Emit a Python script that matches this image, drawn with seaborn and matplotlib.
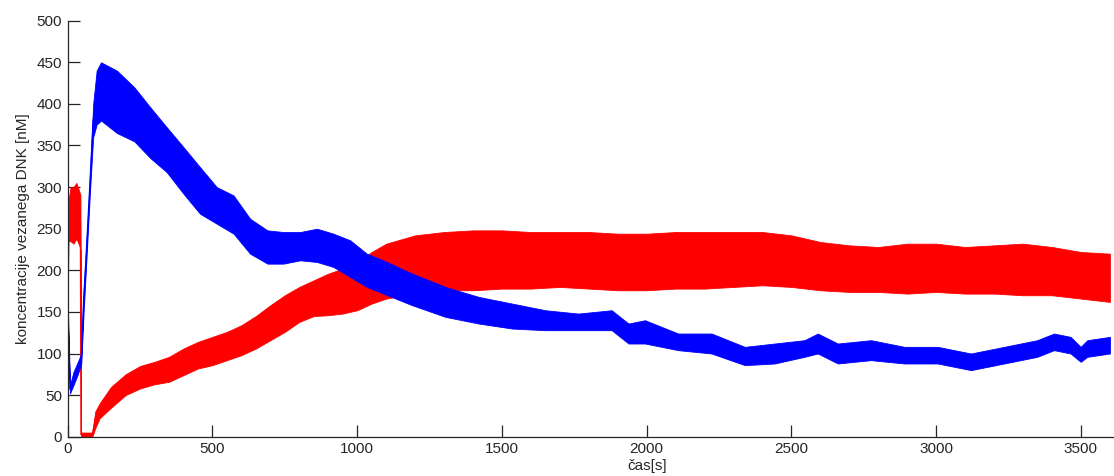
import numpy as np
import pandas as pd
import seaborn as sns
import matplotlib
matplotlib.use("Agg")
import matplotlib.pyplot as plt

# ---- data (time in s, envelope of the noisy signal in nM) ----
red_t = [0, 3, 10, 20, 30, 40, 44, 46, 60, 85, 95, 110, 150, 200, 250, 300, 350, 400, 450,
         500, 550, 600, 650, 700, 750, 800, 850, 900, 950, 1000, 1050, 1100, 1200, 1300,
         1400, 1500, 1600, 1700, 1800, 1900, 2000, 2100, 2200, 2300, 2400, 2500, 2600,
         2700, 2800, 2900, 3000, 3100, 3200, 3300, 3400, 3500, 3600]
red_lo = [165, 235, 235, 232, 238, 230, 225, 0, 0, 0, 10, 22, 35, 50, 58, 63, 66, 74, 82,
          86, 92, 98, 106, 116, 126, 138, 145, 146, 148, 152, 160, 166, 172, 176,
          176, 178, 178, 180, 178, 176, 176, 178, 178, 180, 182, 180, 176,
          174, 174, 172, 174, 172, 172, 170, 170, 166, 162]
red_hi = [185, 285, 300, 300, 305, 295, 290, 5, 5, 5, 30, 40, 60, 75, 85, 90, 96, 106, 114,
          120, 126, 134, 145, 158, 170, 180, 188, 196, 202, 210, 222, 232, 242, 246,
          248, 248, 246, 246, 246, 244, 244, 246, 246, 246, 246, 242, 234,
          230, 228, 232, 232, 228, 230, 232, 228, 222, 220]

blue_t = [0, 1, 8, 20, 35, 47, 55, 65, 77, 88, 100, 115, 170, 230, 285, 342, 400, 457,
          515, 573, 630, 690, 745, 803, 861, 918, 976, 1033, 1090, 1190, 1305, 1420,
          1535, 1650, 1764, 1879, 1937, 1994, 2109, 2224, 2339, 2442, 2545, 2591, 2660,
          2775, 2890, 3005, 3120, 3235, 3349, 3407, 3464, 3499, 3522, 3600]
blue_lo = [0, 135, 52, 62, 75, 88, 150, 215, 295, 360, 375, 380, 365, 355, 335, 318, 292,
           268, 256, 244, 220, 208, 208, 212, 210, 204, 192, 180, 172, 158, 144, 136,
           130, 128, 128, 128, 112, 112, 104, 100, 86, 88, 96, 100, 88,
           92, 88, 88, 80, 88, 96, 104, 100, 90, 96, 100]
blue_hi = [0, 150, 62, 78, 90, 100, 175, 235, 315, 400, 440, 450, 440, 420, 396, 372, 348,
           324, 300, 290, 262, 248, 246, 246, 250, 244, 236, 220, 212, 196, 180, 168,
           160, 152, 148, 152, 136, 140, 124, 124, 108, 112, 116, 124, 112,
           116, 108, 108, 100, 108, 116, 124, 120, 108, 116, 120]

x_ticks = [0, 500, 1000, 1500, 2000, 2500, 3000, 3500]
y_ticks = [0, 50, 100, 150, 200, 250, 300, 350, 400, 450, 500]

sns.set_style("white")
plt.rcParams["font.family"] = ["Liberation Sans", "DejaVu Sans"]

fig = plt.figure(figsize=(11.14, 4.76), dpi=100)
W, H = 1114.0, 476.0
x0, x1 = 67.7, 1225.7   # axes spans 0..4000 s; image cropped at the right
y0, y1 = 436.7, 20.7
ax = fig.add_axes([x0 / W, 1 - y0 / H, (x1 - x0) / W, (y0 - y1) / H])


def long(t, lo, hi):
    return pd.DataFrame({"t": list(t) + list(t), "c": list(lo) + list(hi)})


for t, lo, hi, col, z in [(red_t, red_lo, red_hi, "#ff0000", 1),
                          (blue_t, blue_lo, blue_hi, "#0000ff", 3)]:
    sns.lineplot(data=long(t, lo, hi), x="t", y="c", estimator="mean",
                 errorbar=("pi", 100), color=col, linewidth=1.0, ax=ax, zorder=z + 1,
                 err_kws={"alpha": 1.0, "linewidth": 0.6, "edgecolor": col, "zorder": z})

ax.set_xlim(0, 4000)
ax.set_ylim(0, 500)
ax.set_xticks(x_ticks)
ax.set_yticks(y_ticks)
ax.tick_params(direction="in", length=8.5, width=0.9, colors="#262626",
               labelsize=11, pad=4, bottom=True, left=True, top=False, right=False)
for s in ["top", "right"]:
    ax.spines[s].set_visible(False)
for s in ["left", "bottom"]:
    ax.spines[s].set_color("#262626")
    ax.spines[s].set_linewidth(0.9)
    ax.spines[s].set_zorder(6)
ax.set_xlabel("čas[s]", fontsize=11, color="#262626", labelpad=2)
ax.set_ylabel("koncentracije vezanega DNK [nM]", fontsize=11, color="#262626", labelpad=5)

fig.savefig("out.png", dpi=100)
